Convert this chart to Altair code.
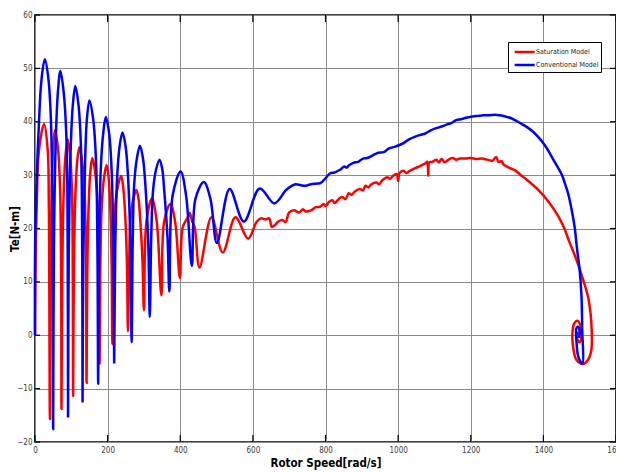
import altair as alt
import pandas as pd

# ---------------- data ----------------
x_ticks = [0, 200, 400, 600, 800, 1000, 1200, 1400, 1600]
y_ticks = [-20, -10, 0, 10, 20, 30, 40, 50, 60]
series_names = ["Saturation Model", "Conventional Model"]
series_colors = ["#ff0000", "#0000ff"]

red_x = [0, 2, 5, 11, 25, 35, 38, 41,
         43, 46, 50, 55, 63, 69, 72, 73,
         75, 79, 84, 90, 96.5, 102, 104, 105,
         107, 111, 116, 122, 130, 137, 140.5, 142,
         144, 148, 152.5, 158, 165.5, 172, 176, 178,
         180, 184, 190.5, 197, 202.5, 207, 211, 213,
         216, 220, 228.5, 237, 242.5, 247.5, 253, 256,
         259.5, 263, 271, 279, 285, 289.5, 296, 300,
         307, 322, 335, 348,
         355.5, 373, 386, 399,
         407, 420, 426, 432, 439.5, 453,
         486, 517,
         552, 587,
         610, 622, 635, 645, 652, 660, 670, 681, 690, 700, 714, 727, 738, 745, 760,
         773, 786, 795, 800, 810, 819, 825, 835, 845, 855, 864, 872, 880, 895, 903,
         910, 918, 925, 940, 948, 956, 970, 978, 985, 996, 1000, 1004, 1015, 1022,
         1030, 1047, 1060, 1075, 1080, 1083, 1086, 1095, 1105, 1112, 1120, 1128,
         1139, 1150, 1160, 1170, 1185, 1200, 1215, 1230, 1245, 1260, 1270, 1276,
         1285, 1290, 1305, 1322, 1340, 1355, 1367, 1385, 1400, 1413, 1430, 1445,
         1459, 1472, 1484, 1496, 1510, 1523, 1530, 1533, 1532, 1523, 1509, 1491,
         1482, 1480, 1485, 1494, 1503, 1505, 1500, 1494, 1494, 1497]
red_y = [0, 15, 25, 34.7, 39.6, 34.7, 25, -15.7,
         11.4, 27.6, 35.2, 38.4, 35.2, 27.6, 11.4, -13.8,
         11.5, 26.6, 33.7, 36.7, 33.7, 26.6, 11.5, -11.4,
         11.9, 25.9, 32.4, 35.2, 32.4, 25.9, 11.9, -8.9,
         12.2, 24.8, 30.7, 33.2, 30.7, 24.8, 12.2, -5.3,
         13.3, 24.5, 29.7, 31.9, 29.7, 24.5, 13.3, -1.7,
         14.1, 23.6, 28.0, 29.9, 28.0, 23.6, 14.1, 0.7,
         14.0, 21.9, 25.6, 27.2, 25.6, 21.9, 14.0, 4.7,
         21.4, 25.6, 21.4, 7.5,
         21.2, 24.6, 21.2, 10.7,
         20.3, 22.0, 22.9, 21.5, 20.3, 12.7,
         22.1, 15.5,
         22.1, 18.1,
         21.2, 21.9, 21.7, 21.9, 20.3, 20.6, 21.3, 21.6, 21.2, 23.0, 23.4, 23.0, 23.6, 23.2, 23.4,
         24.0, 24.1, 24.6, 24.2, 25.0, 25.3, 24.8, 25.4, 25.9, 25.5, 26.6, 26.3, 26.9, 27.4, 27.1,
         28.0, 27.7, 28.2, 28.6, 28.3, 29.0, 29.6, 29.3, 29.8, 30.2, 28.9, 30.4, 30.8, 30.4,
         30.7, 31.3, 31.7, 32.2, 32.5, 29.9, 32.4, 32.5, 32.9, 32.4, 33.0, 32.4,
         32.9, 33.2, 32.9, 33.1, 33.1, 33.2, 33.0, 33.1, 32.9, 32.7, 33.4, 32.5,
         32.6, 32.0, 31.4, 30.9, 29.9, 29.1, 28.4, 27.3, 26.2, 25.1, 23.5, 21.8,
         19.8, 17.4, 15.4, 13.2, 10.3, 7.2, 4.0, 1.0, -2.8, -4.6, -5.4, -4.6,
         -2.2, 0.4, 2.2, 2.7, 1.6, -0.3, -1.3, -0.9, 0.2, 0.6]

blue_x = [0, 1, 11, 18, 27, 37, 44, 48, 50,
          52, 57, 63, 70, 79, 87, 90, 91,
          93, 98, 104, 111, 120, 127, 130, 131,
          133, 138, 143, 150, 160, 168, 172, 174,
          176.5, 181, 188, 195, 204, 211, 216, 218,
          221, 226, 233, 241, 249.5, 256.5, 263, 266,
          269, 273, 281, 289, 297, 304, 312, 316,
          320, 325, 333.5, 343, 350.5, 356, 365, 370,
          379, 401, 416, 432,
          442, 465, 483, 501,
          536, 575,
          619, 659,
          691, 705, 718, 732, 745, 760, 773, 786, 800, 812, 825, 840, 852, 858, 864,
          877, 890, 903, 915, 930, 945, 960, 975, 990, 1002, 1015, 1030, 1047, 1060,
          1075, 1090, 1105, 1120, 1135, 1148, 1160, 1175, 1190, 1205, 1220, 1235,
          1250, 1267, 1280, 1295, 1310, 1322, 1340, 1355, 1367, 1385, 1404, 1420,
          1435, 1450, 1460, 1468, 1477, 1486, 1493, 1500, 1505, 1507, 1508, 1503,
          1496, 1491, 1491, 1496, 1500, 1498]
blue_y = [0, 20, 40, 48, 51.7, 48, 40, 20, -17.6,
          16, 36, 45.5, 49.5, 45.5, 36, 16, -15.4,
          15.6, 34.3, 43.0, 46.7, 43.0, 34.3, 15.6, -12.6,
          15.7, 32.7, 40.6, 44.0, 40.6, 32.7, 15.7, -9.1,
          15.9, 30.9, 37.9, 40.9, 37.9, 30.9, 15.9, -5.3,
          16.4, 29.3, 35.4, 38.0, 35.4, 29.3, 16.4, -1.3,
          17.1, 28.1, 33.3, 35.5, 33.3, 28.1, 17.1, 3.4,
          18.2, 27.0, 31.1, 32.9, 31.1, 27.0, 18.2, 8.2,
          26.2, 30.7, 26.2, 13.0,
          25.6, 28.7, 25.6, 17.3,
          27.4, 21.3,
          27.5, 24.7,
          27.2, 27.9, 28.3, 28.1, 28.0, 28.3, 28.4, 28.5, 29.4, 30.3, 30.5, 31.0, 31.6, 31.4, 31.8,
          32.3, 32.5, 33.1, 33.2, 33.7, 34.2, 34.3, 35.0, 35.3, 35.6, 36.0, 36.7, 37.2, 37.5,
          37.8, 38.4, 38.8, 39.1, 39.5, 39.8, 40.3, 40.5, 40.8, 41.0, 41.1, 41.2,
          41.2, 41.3, 41.2, 41.0, 40.7, 40.3, 39.6, 39.0, 38.4, 37.2, 35.6, 33.8,
          32.0, 30.2, 28.3, 26.6, 23.8, 20.3, 16.0, 12.2, 7.2, 1.0, -5.3, -5.0,
          -4.0, -1.0, 1.3, 1.6, 0.4, -0.5]


def series_frame(xs, ys, name):
    return pd.DataFrame({"speed": xs, "torque": ys, "model": name,
                         "step": list(range(len(xs)))})


red_df = series_frame(red_x, red_y, series_names[0])
blue_df = series_frame(blue_x, blue_y, series_names[1])
xt_df = pd.DataFrame({"speed": x_ticks})
yt_df = pd.DataFrame({"torque": y_ticks})

# ---------------- styling ----------------
W, H = 581, 427
LABEL_FONT = "Liberation Sans Narrow, DejaVu Sans Condensed, Arial Narrow, Liberation Sans, Arial, sans-serif"
TITLE_FONT = "Liberation Sans Narrow, DejaVu Sans Condensed, Arial Narrow, Liberation Sans, Arial, sans-serif"

x_scale = alt.Scale(domain=[0, 1600], nice=False, zero=False)
y_scale = alt.Scale(domain=[-20, 60], nice=False, zero=False)
color_scale = alt.Scale(domain=series_names, range=series_colors)

x_axis = alt.Axis(values=x_ticks, format="d", title="Rotor Speed[rad/s]",
                  grid=True, gridColor="#8a8a8a", gridWidth=1, ticks=False, domain=False,
                  labelFont=LABEL_FONT, labelFontSize=8, labelColor="#3a3a3a",
                  labelPadding=4, labelFlush=False, labelOverlap=False,
                  titleFont=TITLE_FONT, titleFontSize=11.5, titleFontWeight="bold",
                  titleColor="#000000", titleX=W / 2, titleY=21, titleBaseline="middle",
                  titleAlign="center")
y_axis = alt.Axis(values=y_ticks, format="d", title="Te[N-m]",
                  grid=True, gridColor="#8a8a8a", gridWidth=1, ticks=False, domain=False,
                  labelFont=LABEL_FONT, labelFontSize=8, labelColor="#3a3a3a",
                  labelPadding=3, labelFlush=False, labelOverlap=False,
                  titleFont=TITLE_FONT, titleFontSize=11.5, titleFontWeight="bold",
                  titleColor="#000000", titleX=-20, titleY=H / 2, titleAngle=270,
                  titleBaseline="middle", titleAlign="center")

legend = alt.Legend(title=None, orient="none", legendX=473, legendY=27,
                    direction="vertical", fillColor="white", strokeColor="black",
                    padding=2, rowPadding=0, symbolType="M-0.5,0H2.5", symbolSize=178,
                    symbolStrokeWidth=2.5, labelOffset=10, labelFont=LABEL_FONT,
                    labelFontSize=7, labelColor="#222222")

X_ENC = alt.X("speed:Q", scale=x_scale, axis=x_axis)
Y_ENC = alt.Y("torque:Q", scale=y_scale, axis=y_axis)


def curve(df, with_legend):
    enc_color = alt.Color("model:N", scale=color_scale,
                          legend=legend if with_legend else None)
    return alt.Chart(df).mark_line(strokeWidth=2.5, interpolate="catmull-rom").encode(
        x=X_ENC, y=Y_ENC, color=enc_color, order="step:Q",
    )


tick_style = dict(color="black", strokeWidth=1.2)
top_ticks = alt.Chart(xt_df).mark_rule(**tick_style).encode(
    x=X_ENC, y=alt.value(0), y2=alt.value(7))
bottom_ticks = alt.Chart(xt_df).mark_rule(**tick_style).encode(
    x=X_ENC, y=alt.value(H - 7), y2=alt.value(H))
left_ticks = alt.Chart(yt_df).mark_rule(**tick_style).encode(
    y=Y_ENC, x=alt.value(0), x2=alt.value(5))
right_ticks = alt.Chart(yt_df).mark_rule(**tick_style).encode(
    y=Y_ENC, x=alt.value(W - 6), x2=alt.value(W))

chart = alt.layer(
    curve(red_df, True), curve(blue_df, False),
    top_ticks, bottom_ticks, left_ticks, right_ticks,
).properties(
    width=W, height=H,
    autosize=alt.AutoSizeParams(type="none"),
    padding={"left": 27, "top": 7, "right": 0, "bottom": 29},
    background="white",
).configure_view(stroke="black", strokeWidth=1.6)

chart.save("out.html", embed_options={"renderer": "svg", "actions": False})
